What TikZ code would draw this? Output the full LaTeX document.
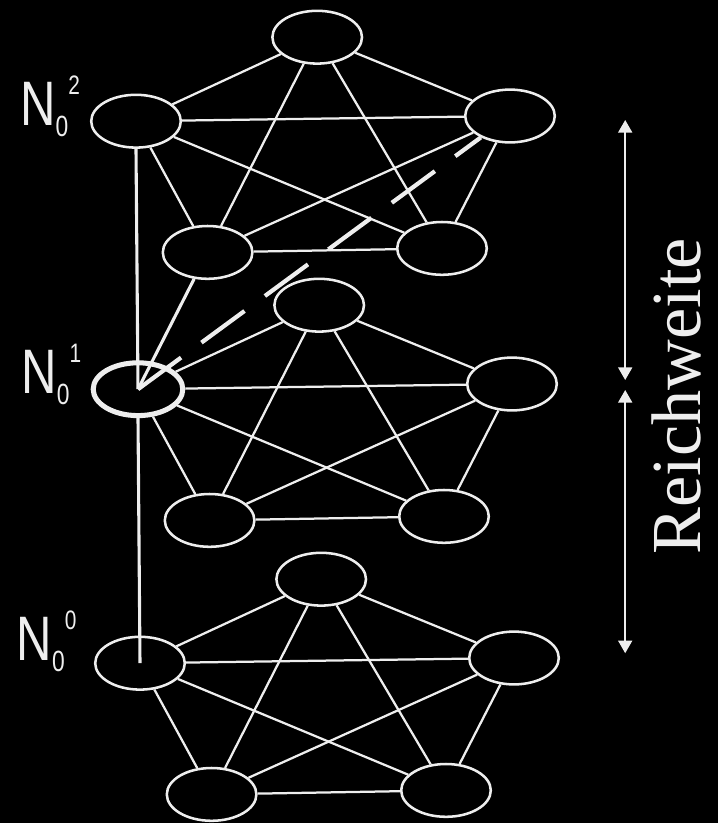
\documentclass[tikz,border=0pt]{standalone}
\usepackage{fontspec}
\usepackage{graphicx}
\usepackage{tikz}
\usetikzlibrary{shapes.geometric, arrows.meta, positioning, calc}
\newfontfamily\labfont{Liberation Sans}
\newfontfamily\reachfont{Liberation Serif}
\definecolor{mybg}{RGB}{0,0,0}
\definecolor{myline}{RGB}{238,238,238}
\newcommand{\nzero}[1]{\scalebox{0.78}[1]{\labfont\fontsize{44.7pt}{45pt}\selectfont N\raisebox{-8pt}{\fontsize{20.8pt}{21pt}\selectfont 0}\raisebox{22pt}{\fontsize{19pt}{19pt}\selectfont #1}}}
\tikzset{
  cell/.style={ellipse, draw=myline, fill=mybg, minimum width=2.24cm,
    minimum height=1.32cm, inner sep=0pt, line width=1.8pt},
  link/.style={line width=1.6pt, color=myline},
  stem/.style={line width=2.2pt, color=myline},
  reachline/.style={line width=3pt, color=myline, dash pattern=on 38pt off 18pt},
  dimarrow/.style={{Triangle[width=10pt,length=9pt]}-{Triangle[width=10pt,length=9pt]},
    line width=1.2pt, color=myline},
  nlabel/.style={anchor=base west, inner sep=0pt, text=myline}
}

\begin{document}
\begin{tikzpicture}
  % Background
  \fill[mybg] (0,0) rectangle (17.95,-20.575);
  \useasboundingbox (0,0) rectangle (17.95,-20.575);
  % Three layers of five nodes, every pair linked
  \foreach \k/\sx/\sy/\w in {2/3.40/-3.03/1.8pt, 1/3.45/-9.73/3.6pt, 0/3.50/-16.58/1.8pt} {
    \begin{scope}[shift={(\sx,\sy)}]
      \node[cell, line width=\w] (l\k-a) at (0,0) {};
      \node[cell] (l\k-b) at (4.53,2.10) {};
      \node[cell] (l\k-c) at (9.35,0.13) {};
      \node[cell] (l\k-d) at (7.65,-3.18) {};
      \node[cell] (l\k-e) at (1.79,-3.28) {};
      \foreach \u/\v in {a/b,a/c,a/d,a/e,b/c,b/d,b/e,c/d,c/e,d/e}
        \draw[link] (l\k-\u) -- (l\k-\v);
    \end{scope}
  }
  % Vertical chain through the left nodes
  \draw[stem] (l2-a.south) -- (l1-a.center);
  \draw[stem] (l1-a.south) -- (l0-a.center);
  % Links from N_0^1 up to the next layer
  \draw[stem] (l1-a.center) -- (l2-e);
  \draw[reachline] (l1-a.center) -- (l2-c);
  % Labels
  \node[nlabel] (n2) at (0.50,-3.125) {\nzero{2}};
  \node[nlabel] (n1) at (0.53,-9.83) {\nzero{1}};
  \node[nlabel] (n0) at (0.41,-16.50) {\nzero{0}};
  % Range arrows
  \coordinate (rtop) at (15.63,-3.00);
  \coordinate (rmida) at (15.63,-9.50);
  \coordinate (rmidb) at (15.63,-9.75);
  \coordinate (rbot) at (15.63,-16.33);
  \draw[dimarrow] (rtop) -- (rmida);
  \draw[dimarrow] (rmidb) -- (rbot);
  \node[rotate=90, anchor=base, inner sep=0pt, text=myline,
    font=\reachfont\fontsize{50pt}{50pt}\selectfont] (reach) at (17.50,-9.90) {Reichweite};
\end{tikzpicture}
\end{document}
